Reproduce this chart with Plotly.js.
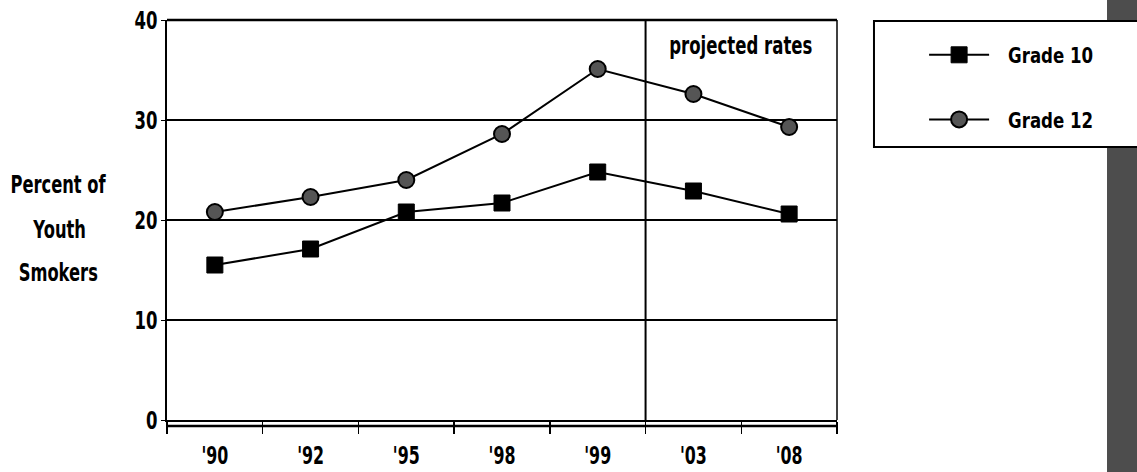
<!DOCTYPE html>
<html>
<head>
<meta charset="utf-8">
<script src="https://cdn.plot.ly/plotly-3.0.1.min.js"></script>
<style>
  html, body { margin: 0; padding: 0; background: #fff; }
  #chart { width: 1137px; height: 472px; }
</style>
</head>
<body>
<div id="chart"></div>
<script>
// ---- data ----
const years = ["'90", "'92", "'95", "'98", "'99", "'03", "'08"];
const grade10 = [15.5, 17.1, 20.8, 21.7, 24.8, 22.9, 20.6];
const grade12 = [20.8, 22.3, 24.0, 28.6, 35.1, 32.6, 29.3];
const yTicks = [0, 10, 20, 30, 40];
const seriesNames = ["Grade 10", "Grade 12"];
const yTitleLines = ["Percent of", "Youth", "Smokers"];
const projectedLabel = "projected rates";

const FONT = "'DejaVu Sans', sans-serif";

const traces = [
  {
    x: years, y: grade10, name: seriesNames[0], type: 'scatter', mode: 'lines+markers',
    legendgroup: 'g10',
    line: { color: '#000', width: 2 },
    marker: { symbol: 'square', size: 16, color: '#000', line: { color: '#000', width: 1 } },
    cliponaxis: false
  },
  {
    x: years, y: grade12, name: seriesNames[1], type: 'scatter', mode: 'lines+markers',
    legendgroup: 'g12',
    line: { color: '#000', width: 2 },
    marker: { symbol: 'circle', size: 16, color: '#555', line: { color: '#000', width: 2 } },
    cliponaxis: false
  }
];

const yTitleY = [0.5875, 0.475, 0.3675];
const annotations = yTitleLines.map((t, i) => ({
  text: '<b>' + t + '</b>', xref: 'paper', yref: 'paper', x: -0.1612, y: yTitleY[i],
  xanchor: 'center', yanchor: 'middle', showarrow: false,
  font: { family: FONT, size: 24, color: '#000' }
}));
annotations.push({
  text: '<b>' + projectedLabel + '</b>', xref: 'x', yref: 'y', x: 5.5, y: 37.4,
  xanchor: 'center', yanchor: 'middle', showarrow: false,
  font: { family: FONT, size: 24, color: '#000' }
});

const shapes = [
  { type: 'rect', xref: 'paper', yref: 'paper', x0: 1.403, x1: 1.6, y0: -0.3, y1: 1.2,
    fillcolor: '#4d4d4d', line: { width: 0 }, layer: 'below' },
  { type: 'rect', xref: 'paper', yref: 'paper', x0: 1.0552, x1: 1.6, y0: 0.6825, y1: 0.9975,
    fillcolor: '#fff', line: { color: '#000', width: 2 } },
  { type: 'line', xref: 'paper', yref: 'paper', x0: 0, x1: 1, y0: 1, y1: 1,
    line: { color: '#000', width: 2.5 } },
  { type: 'line', xref: 'paper', yref: 'paper', x0: 1, x1: 1, y0: 0, y1: 1,
    line: { color: '#000', width: 1.5 } },
  { type: 'line', xref: 'x', yref: 'paper', x0: 4.5, x1: 4.5, y0: 0, y1: 1,
    line: { color: '#000', width: 2 } },
  { type: 'line', xref: 'paper', yref: 'paper', ysizemode: 'pixel', yanchor: 0,
    x0: 0, x1: 1, y0: -6, y1: -6, line: { color: '#000', width: 2.5 } }
];

const layout = {
  width: 1137, height: 472,
  margin: { l: 167, r: 300, t: 20, b: 52, pad: 0 },
  paper_bgcolor: '#fff', plot_bgcolor: '#fff',
  font: { family: FONT, color: '#000' },
  showlegend: true,
  legend: {
    x: 1.13, y: 0.965, xanchor: 'left', yanchor: 'top',
    bgcolor: 'rgba(0,0,0,0)', borderwidth: 0,
    traceorder: 'grouped', tracegroupgap: 33, itemwidth: 60,
    font: { family: FONT, size: 22, color: '#000', weight: 'bold' }
  },
  xaxis: {
    type: 'category', range: [-0.5, 6.5], fixedrange: true,
    showgrid: false, zeroline: false,
    showline: true, linecolor: '#000', linewidth: 2,
    ticks: 'outside', tickson: 'boundaries', ticklen: 12, tickwidth: 1.5, tickcolor: '#000',
    ticklabelstandoff: 13,
    tickfont: { family: FONT, size: 24, color: '#000', weight: 'bold' }
  },
  yaxis: {
    range: [0, 40], tickvals: yTicks, ticktext: yTicks.map(String), fixedrange: true,
    showgrid: true, gridcolor: '#000', gridwidth: 1.2, zeroline: false,
    showline: true, linecolor: '#000', linewidth: 2.5,
    ticks: 'outside', ticklen: 4, tickwidth: 1, tickcolor: '#000',
    ticklabelstandoff: -2,
    tickfont: { family: FONT, size: 25, color: '#000', weight: 'bold' }
  },
  annotations: annotations,
  shapes: shapes
};

// narrow (condensed) look: scale text horizontally about its own anchor x
function condense(el, s, dx) {
  const x = parseFloat(el.getAttribute('x') || '0');
  const prev = el.getAttribute('transform') || '';
  el.setAttribute('transform',
    (prev + ' translate(' + (x + (dx || 0)) + ',0) scale(' + s + ',1) translate(' + (-x) + ',0)').trim());
}

Plotly.newPlot('chart', traces, layout, { displayModeBar: false, staticPlot: true }).then(gd => {
  gd.querySelectorAll('.xtick text, .ytick text').forEach(t => condense(t, 0.66));
  gd.querySelectorAll('.legendtext').forEach(t => condense(t, 0.755, 14));
  gd.querySelectorAll('.annotation-text').forEach(t => {
    const isProj = t.textContent.indexOf('projected') >= 0;
    condense(t, isProj ? 0.69 : 0.68);
  });
});
</script>
</body>
</html>
